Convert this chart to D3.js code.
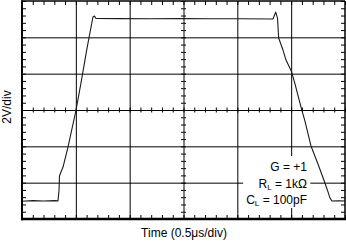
<!DOCTYPE html>
<html><head><meta charset="utf-8">
<script src="https://cdn.jsdelivr.net/npm/d3@7"></script>
<style>
html,body{margin:0;padding:0;background:#fff;}
svg{display:block;}
text{font-family:"Liberation Sans",Arial,Helvetica,sans-serif;fill:#000;}
</style>
</head><body>
<svg id="c" width="346" height="242"></svg>
<script>
// Time in microseconds (0.5 us/div), voltage in volts (2 V/div)
const timeUs = [0, 0.1, 0.2, 0.3, 0.334, 0.344, 0.348, 0.362, 0.381, 0.427, 0.502, 0.548, 0.604, 0.659, 0.673, 0.687,
  0.910, 1.189, 1.468, 1.746, 2.025, 2.331, 2.356, 2.373, 2.384, 2.424, 2.452, 2.501, 2.533, 2.591, 2.628,
  2.684, 2.749, 2.814, 2.842, 2.860, 2.879, 2.94, 3.0];
const volts = [-5.02, -4.99, -5.01, -4.99, -5.0, -4.40, -3.63, -3.41, -3.14, -2.04, 0.0, 1.49, 3.41, 5.12, 5.17, 5.04,
  5.03, 5.02, 5.03, 5.02, 5.02, 5.01, 5.39, 5.06, 3.96, 3.30, 2.75, 2.15, 1.49, 0.17, -0.61,
  -1.98, -2.97, -4.02, -4.51, -4.84, -5.01, -5.0, -5.01];
const gridTime = [0.5, 1.0, 1.5, 2.0, 2.5];
const gridVolts = [-4, -2, 0, 2, 4];
const xLabel = "Time (0.5\u03BCs/div)";
const yLabel = "2V/div";
const noteMain = ["G = +1", "R", "C"];
const noteSub = ["", "L", "L"];
const noteRest = ["", " = 1k\u03A9", " = 100pF"];

const svg = d3.select("#c");
const W = 346, H = 242;
const L = 22, R = 345, T = 1, B = 219;
const x = d3.scaleLinear().domain([0, 3]).range([L, R]);
const y = d3.scaleLinear().domain([-6, 6]).range([B, T]);
const minorT = d3.range(0, 3.0001, 0.1).map(v => +v.toFixed(2));
const minorV = d3.range(-6, 6.0001, 0.4).map(v => +v.toFixed(2));

svg.append("rect").attr("width", W).attr("height", H).attr("fill", "#fff");

function clean(g){ g.select(".domain").remove(); g.selectAll("text").remove(); }

// grid
svg.append("g").attr("transform", `translate(0,${B})`)
  .call(d3.axisBottom(x).tickValues(gridTime).tickSize(-(B - T)).tickFormat(""))
  .call(clean).selectAll("line").attr("stroke", "#000").attr("stroke-width", 1);
svg.append("g").attr("transform", `translate(${L},0)`)
  .call(d3.axisLeft(y).tickValues(gridVolts).tickSize(-(R - L)).tickFormat(""))
  .call(clean).selectAll("line").attr("stroke", "#000").attr("stroke-width", 1);

// minor ticks on borders
function ticks(axis, tx, ty){
  svg.append("g").attr("transform", `translate(${tx},${ty})`).call(axis).call(clean)
    .selectAll("line").attr("stroke", "#000").attr("stroke-width", 1);
}
ticks(d3.axisBottom(x).tickValues(minorT).tickSize(-4).tickFormat(""), 0, B);
ticks(d3.axisTop(x).tickValues(minorT).tickSize(-4).tickFormat(""), 0, T);
ticks(d3.axisLeft(y).tickValues(minorV).tickSize(-4).tickFormat(""), L, 0);
ticks(d3.axisRight(y).tickValues(minorV).tickSize(-4).tickFormat(""), R, 0);
// ticks on center crosshair
ticks(d3.axisBottom(x).tickValues(minorT).tickSize(2.5).tickFormat(""), 0, y(0));
ticks(d3.axisTop(x).tickValues(minorT).tickSize(2.5).tickFormat(""), 0, y(0));
ticks(d3.axisLeft(y).tickValues(minorV).tickSize(2.5).tickFormat(""), x(1.5), 0);
ticks(d3.axisRight(y).tickValues(minorV).tickSize(2.5).tickFormat(""), x(1.5), 0);

// notes with white mask
const maskRect = svg.append("rect").attr("fill", "#fff");
const notesG = svg.append("g").attr("font-size", 12).attr("text-anchor", "end");
const baselines = [171, 187.5, 204];
noteMain.forEach((m, i) => {
  const t = notesG.append("text").attr("x", 307).attr("y", baselines[i]);
  t.append("tspan").text(m);
  if (noteSub[i]) {
    t.append("tspan").attr("font-size", 8).attr("dy", 2).text(noteSub[i]);
    t.append("tspan").attr("dy", -2).text(noteRest[i]);
  }
});
const bb = notesG.node().getBBox();
maskRect.attr("x", bb.x - 3).attr("y", bb.y - 4).attr("width", bb.width + 6).attr("height", bb.height + 4);

// trace
const pts = timeUs.map((t, i) => [t, volts[i]]);
svg.append("path").datum(pts)
  .attr("fill", "none").attr("stroke", "#1a1a1a").attr("stroke-width", 1.1)
  .attr("stroke-linejoin", "round")
  .attr("d", d3.line().x(d => x(d[0])).y(d => y(d[1])));

// frame
svg.append("line").attr("x1", L).attr("x2", R).attr("y1", T).attr("y2", T).attr("stroke", "#000").attr("stroke-width", 1.5);
svg.append("line").attr("x1", R).attr("x2", R).attr("y1", T).attr("y2", B).attr("stroke", "#000").attr("stroke-width", 1.5);
svg.append("line").attr("x1", L).attr("x2", L).attr("y1", T - 0.75).attr("y2", B + 1.25).attr("stroke", "#000").attr("stroke-width", 2);
svg.append("line").attr("x1", L - 1).attr("x2", R + 1).attr("y1", B).attr("y2", B).attr("stroke", "#000").attr("stroke-width", 2.5);

// labels
svg.append("text").attr("x", (L + R) / 2 + 0.5).attr("y", 237).attr("text-anchor", "middle")
  .attr("font-size", 12).text(xLabel);
svg.append("text").attr("transform", "translate(11,107) rotate(-90)").attr("text-anchor", "middle")
  .attr("font-size", 12).text(yLabel);
</script>
</body></html>
